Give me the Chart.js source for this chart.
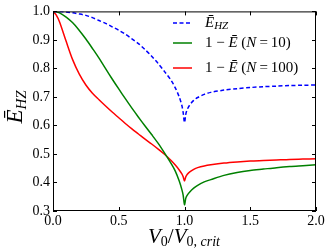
<!DOCTYPE html>
<html>
<head>
<meta charset="utf-8">
<script src="https://cdn.jsdelivr.net/npm/chart.js@4"></script>
<style>
  html, body { margin: 0; padding: 0; background: #fff; }
  #wrap { width: 332px; height: 249px; }
</style>
</head>
<body>
<div id="wrap"><canvas id="myChart" width="332" height="249"></canvas></div>
<script>
// values
const xVals = [0, 0.025, 0.05, 0.1, 0.15, 0.2, 0.25, 0.3, 0.35, 0.4, 0.45, 0.5, 0.55, 0.6, 0.65, 0.7, 0.75, 0.8, 0.85, 0.9, 0.93, 0.96, 0.98, 0.99, 1.0,
               1.01, 1.02, 1.04, 1.07, 1.1, 1.15, 1.2, 1.3, 1.4, 1.5, 1.6, 1.7, 1.8, 1.9, 2.0];
const eHZ = [1.0, 1.0, 1.0, 0.998, 0.995, 0.991, 0.986, 0.978, 0.968, 0.958, 0.946, 0.934, 0.92, 0.904, 0.887, 0.866, 0.843, 0.817, 0.788, 0.757, 0.732, 0.7, 0.67, 0.645, 0.61,
             0.64, 0.655, 0.672, 0.688, 0.698, 0.709, 0.716, 0.724, 0.729, 0.733, 0.736, 0.738, 0.74, 0.741, 0.742];
const n10 = [1.0, 0.999, 0.995, 0.98, 0.96, 0.933, 0.903, 0.87, 0.836, 0.799, 0.763, 0.728, 0.694, 0.661, 0.629, 0.598, 0.568, 0.537, 0.502, 0.465, 0.44, 0.405, 0.375, 0.355, 0.322,
             0.345, 0.355, 0.367, 0.38, 0.39, 0.402, 0.41, 0.425, 0.435, 0.442, 0.447, 0.452, 0.456, 0.459, 0.462];
const n100 = [1.0, 0.987, 0.963, 0.895, 0.83, 0.78, 0.742, 0.713, 0.69, 0.668, 0.647, 0.627, 0.607, 0.588, 0.57, 0.552, 0.535, 0.517, 0.498, 0.476, 0.461, 0.444, 0.43, 0.42, 0.405,
              0.42, 0.428, 0.437, 0.446, 0.452, 0.458, 0.462, 0.468, 0.472, 0.475, 0.477, 0.479, 0.481, 0.482, 0.483];
const xTicks = [0, 0.5, 1.0, 1.5, 2.0];
const yTicks = [0.3, 0.4, 0.5, 0.6, 0.7, 0.8, 0.9, 1.0];

const serif = "'Liberation Serif', 'DejaVu Serif', serif";

function pts(ys) {
    return xVals.map((x, i) => ({ x: x, y: ys[i] }));
}

// draw a run of text pieces with their own font and baseline shift
function drawRun(ctx, parts, x, y) {
    let cx = x;
    parts.forEach(p => {
        ctx.font = p.f;
        ctx.fillText(p.t, cx, y + (p.dy || 0));
        cx += ctx.measureText(p.t).width;
    });
    return cx - x;
}
function runWidth(ctx, parts) {
    let w = 0;
    parts.forEach(p => { ctx.font = p.f; w += ctx.measureText(p.t).width; });
    return w;
}

const frame = {
    id: "frame",
    afterDraw(chart) {
        const ctx = chart.ctx;
        const a = chart.chartArea;
        const xs = chart.scales.x, ys = chart.scales.y;
        ctx.save();
        ctx.strokeStyle = "#000";
        ctx.lineWidth = 1;
        ctx.strokeRect(a.left + 0.5, a.top + 0.5, a.right - a.left - 1, a.bottom - a.top - 1);
        ctx.beginPath();
        xTicks.forEach(v => {
            const px = Math.round(xs.getPixelForValue(v)) + 0.5;
            ctx.moveTo(px, a.bottom); ctx.lineTo(px, a.bottom - 4);
            ctx.moveTo(px, a.top); ctx.lineTo(px, a.top + 4);
        });
        yTicks.forEach(v => {
            const py = Math.round(ys.getPixelForValue(v)) + 0.5;
            ctx.moveTo(a.left, py); ctx.lineTo(a.left + 4, py);
            ctx.moveTo(a.right, py); ctx.lineTo(a.right - 4, py);
        });
        ctx.stroke();

        // legend
        ctx.fillStyle = "#000";
        ctx.textBaseline = "middle";
        const reg = "15px " + serif, it = "italic 15px " + serif, sub = "italic 11px " + serif;
        const rows = [
            { c: "#0000ff", dash: [4, 2.5], y: 23, t: [{ t: "Ē", f: it }, { t: "HZ", f: sub, dy: 3 }] },
            { c: "#008000", dash: [], y: 43, t: [{ t: "1 − ", f: reg }, { t: "Ē", f: it }, { t: " (", f: reg }, { t: "N", f: it }, { t: "\u2009=\u200910)", f: reg }] },
            { c: "#ff0000", dash: [], y: 68, t: [{ t: "1 − ", f: reg }, { t: "Ē", f: it }, { t: " (", f: reg }, { t: "N", f: it }, { t: "\u2009=\u2009100)", f: reg }] }
        ];
        rows.forEach(r => {
            ctx.strokeStyle = r.c;
            ctx.lineWidth = 1.5;
            ctx.setLineDash(r.dash);
            ctx.beginPath();
            ctx.moveTo(173, r.y); ctx.lineTo(192, r.y);
            ctx.stroke();
            ctx.setLineDash([]);
            drawRun(ctx, r.t, 205, r.y);
        });

        // axis titles
        ctx.textBaseline = "alphabetic";
        const big = "italic 21px " + serif, bigR = "21px " + serif;
        const sub14 = "14px " + serif, sub14i = "italic 14px " + serif;
        const xt = [{ t: "V", f: big }, { t: "0", f: sub14, dy: 3 }, { t: "/", f: bigR }, { t: "V", f: big },
                    { t: "0,", f: sub14, dy: 3 }, { t: " crit", f: sub14i, dy: 3 }];
        const xw = runWidth(ctx, xt);
        drawRun(ctx, xt, 184 - xw / 2, 243);

        const yt = [{ t: "Ē", f: "italic 23px " + serif }, { t: "HZ", f: "italic 15px " + serif, dy: 4 }];
        const yw = runWidth(ctx, yt);
        ctx.translate(22, 107);
        ctx.rotate(-Math.PI / 2);
        drawRun(ctx, yt, -yw / 2, 0);
        ctx.restore();
    }
};

const chartData = {
    datasets: [
        { label: "E_HZ", data: pts(eHZ), borderColor: "#0000ff", borderDash: [4, 2.5], borderWidth: 1.5 },
        { label: "N=10", data: pts(n10), borderColor: "#008000", borderWidth: 1.5 },
        { label: "N=100", data: pts(n100), borderColor: "#ff0000", borderWidth: 1.5 }
    ]
};

const chartConfig = {
    type: "line",
    data: chartData,
    options: {
        responsive: false,
        animation: false,
        layout: { padding: { top: 10, right: 16, left: 0, bottom: 0 } },
        elements: { point: { radius: 0 }, line: { tension: 0.3, fill: false } },
        plugins: { legend: { display: false }, tooltip: { enabled: false } },
        scales: {
            x: {
                type: "linear", min: 0, max: 2,
                afterBuildTicks: s => { s.ticks = xTicks.map(v => ({ value: v })); },
                afterFit: s => { s.height = 38; },
                grid: { display: false, drawTicks: false },
                border: { display: false },
                ticks: { color: "#000", padding: 2, font: { family: serif, size: 14 }, callback: v => v.toFixed(1), maxRotation: 0, autoSkip: false }
            },
            y: {
                min: 0.3, max: 1.0,
                afterBuildTicks: s => { s.ticks = yTicks.map(v => ({ value: v })); },
                afterFit: s => { s.width = 53; },
                grid: { display: false, drawTicks: false },
                border: { display: false },
                ticks: { color: "#000", padding: 3, font: { family: serif, size: 14 }, callback: v => v.toFixed(1), autoSkip: false }
            }
        }
    },
    plugins: [frame]
};

const myChart = new Chart(document.getElementById("myChart"), chartConfig);
</script>
</body>
</html>
